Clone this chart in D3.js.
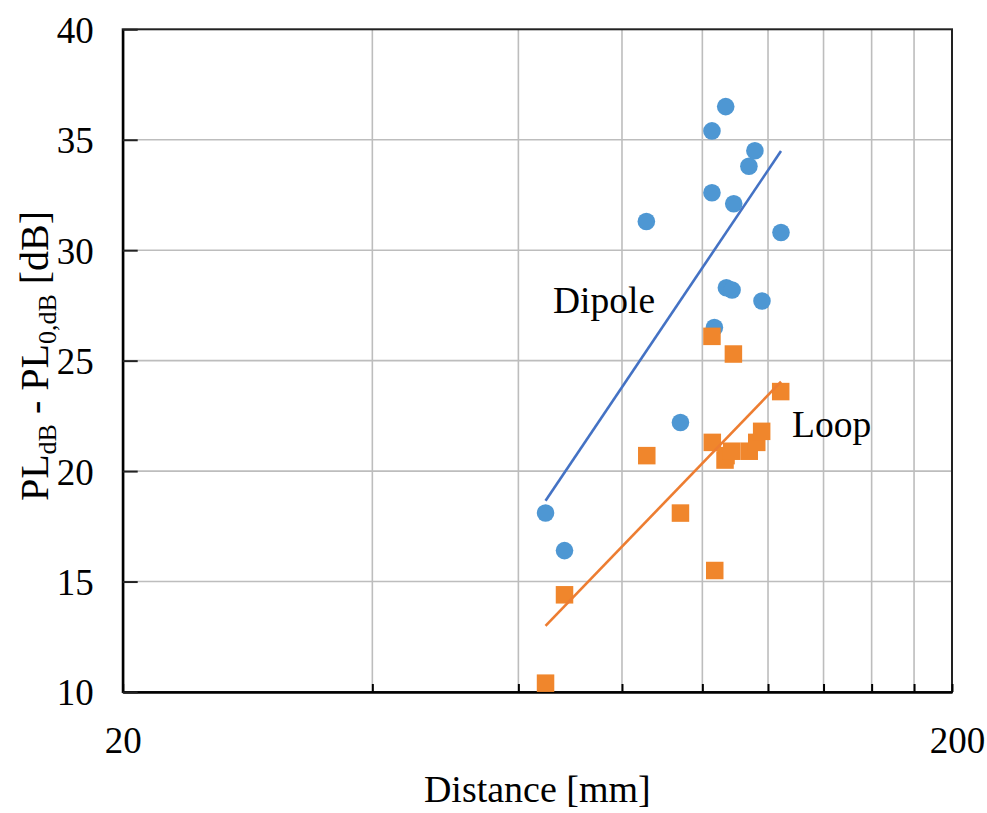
<!DOCTYPE html>
<html>
<head>
<meta charset="utf-8">
<script src="https://cdn.jsdelivr.net/npm/d3@7"></script>
<style>
  html, body { margin: 0; padding: 0; background: #fff; }
  svg text { font-family: "Liberation Serif", "Times New Roman", serif; fill: #000; }
</style>
</head>
<body>
<svg id="chart" width="987" height="813"></svg>
<script>
// Path loss (relative) versus distance, two antenna types
const dipoleDistance = [64.7, 68.2, 85.6, 94.1, 102.7, 102.7, 103.4, 106.7, 106.9, 108.6, 109.1, 113.8, 115.7, 118.0, 124.4];
const dipoleLoss     = [18.1, 16.4, 31.3, 22.2, 35.4, 32.6, 26.5, 36.5, 28.3, 28.2, 32.1, 33.8, 34.5, 27.7, 30.8];
const loopDistance   = [64.7, 68.2, 85.7, 94.1, 102.7, 102.8, 103.5, 106.5, 106.8, 108.5, 109.0, 113.9, 116.3, 117.9, 124.3];
const loopLoss       = [10.4, 14.4, 20.7, 18.1, 26.1, 21.3, 15.5, 20.5, 20.7, 20.9, 25.3, 20.9, 21.3, 21.8, 23.6];

// Logarithmic trend lines (end points)
const trendDistance = [64.7, 124.4];
const dipoleTrend   = [18.66, 34.49];
const loopTrend     = [12.99, 24.05];

// Axis ticks
const xTicks = [20, 40, 60, 80, 100, 120, 140, 160, 180, 200];
const xTickLabels = ["20", "", "", "", "", "", "", "", "", "200"];
const yTicks = [10, 15, 20, 25, 30, 35, 40];

const svg = d3.select("#chart");
const plot = { left: 122.7, right: 952, top: 29.3, bottom: 692 };
const serif = "Liberation Serif, Times New Roman, serif";

const x = d3.scaleLog().domain([20, 200]).range([plot.left, plot.right]);
const y = d3.scaleLinear().domain([10, 40]).range([plot.bottom, plot.top]);

const gridColor = "#bdbdbd";
const blue = "#4e97d3";
const orange = "#f0862c";

// Grid
svg.append("g").selectAll("line")
  .data(xTicks.slice(1, -1))
  .join("line")
  .attr("x1", d => x(d)).attr("x2", d => x(d))
  .attr("y1", plot.top).attr("y2", plot.bottom)
  .attr("stroke", gridColor).attr("stroke-width", 1.6);

svg.append("g").selectAll("line")
  .data(yTicks.slice(1, -1))
  .join("line")
  .attr("x1", plot.left).attr("x2", plot.right)
  .attr("y1", d => y(d)).attr("y2", d => y(d))
  .attr("stroke", gridColor).attr("stroke-width", 1.6);

// Frame
svg.append("rect")
  .attr("x", plot.left).attr("y", plot.top)
  .attr("width", plot.right - plot.left).attr("height", plot.bottom - plot.top)
  .attr("fill", "none").attr("stroke", "#222").attr("stroke-width", 2);

// Axes with inward ticks
const xAxis = svg.append("g")
  .attr("transform", `translate(0,${plot.bottom})`)
  .call(d3.axisBottom(x).tickValues(xTicks).tickSize(-8).tickSizeOuter(0)
    .tickFormat((d, i) => xTickLabels[i]));
xAxis.select(".domain").attr("stroke", "#000").attr("stroke-width", 2.4);
xAxis.selectAll(".tick line").attr("stroke", "#000").attr("stroke-width", 2);
xAxis.selectAll(".tick text")
  .attr("y", 48).attr("dy", "0.35em")
  .attr("dx", (d, i) => i === xTicks.length - 1 ? 5 : 0)
  .attr("font-size", 37).attr("font-family", serif)
  .attr("fill", "#000");

const yAxis = svg.append("g")
  .attr("transform", `translate(${plot.left},0)`)
  .call(d3.axisLeft(y).tickValues(yTicks).tickSize(-15).tickSizeOuter(0)
    .tickFormat(d3.format("d")));
yAxis.select(".domain").attr("stroke", "#000").attr("stroke-width", 2.4);
yAxis.selectAll(".tick line").attr("stroke", "#222").attr("stroke-width", 2);
yAxis.selectAll(".tick text")
  .attr("x", -29).attr("dy", "0.35em")
  .attr("font-size", 37).attr("font-family", serif)
  .attr("fill", "#000");

// Markers: dipole circles, loop squares
const dipole = dipoleDistance.map((d, i) => ({ d, v: dipoleLoss[i] }));
const loop = loopDistance.map((d, i) => ({ d, v: loopLoss[i] }));

svg.append("g").selectAll("circle")
  .data(dipole)
  .join("circle")
  .attr("cx", p => x(p.d)).attr("cy", p => y(p.v))
  .attr("r", 8.8).attr("fill", blue);

const side = 17.5;
svg.append("g").selectAll("rect")
  .data(loop)
  .join("rect")
  .attr("x", p => x(p.d) - side / 2).attr("y", p => y(p.v) - side / 2)
  .attr("width", side).attr("height", side).attr("fill", orange);

// Trend lines
const line = d3.line().x(p => x(p[0])).y(p => y(p[1]));
svg.append("path")
  .datum(trendDistance.map((d, i) => [d, dipoleTrend[i]]))
  .attr("d", line).attr("fill", "none")
  .attr("stroke", "#4472c4").attr("stroke-width", 2.6);
svg.append("path")
  .datum(trendDistance.map((d, i) => [d, loopTrend[i]]))
  .attr("d", line).attr("fill", "none")
  .attr("stroke", "#ed7d31").attr("stroke-width", 2.6);

// Series labels
svg.append("text").attr("x", 553).attr("y", 313).attr("font-size", 37.5).text("Dipole");
svg.append("text").attr("x", 792).attr("y", 437).attr("font-size", 37.5).text("Loop");

// Axis titles
svg.append("text")
  .attr("x", (plot.left + plot.right) / 2).attr("y", 802)
  .attr("text-anchor", "middle").attr("font-size", 38)
  .text("Distance [mm]");

const yTitle = svg.append("text")
  .attr("transform", `translate(48,356) rotate(-90)`)
  .attr("text-anchor", "middle").attr("font-size", 40);
yTitle.append("tspan").text("PL");
yTitle.append("tspan").attr("font-size", 26).attr("dy", 8).text("dB");
yTitle.append("tspan").attr("dy", -8).text(" - PL");
yTitle.append("tspan").attr("font-size", 26).attr("dy", 8).text("0,dB");
yTitle.append("tspan").attr("dy", -8).text(" [dB]");
</script>
</body>
</html>
